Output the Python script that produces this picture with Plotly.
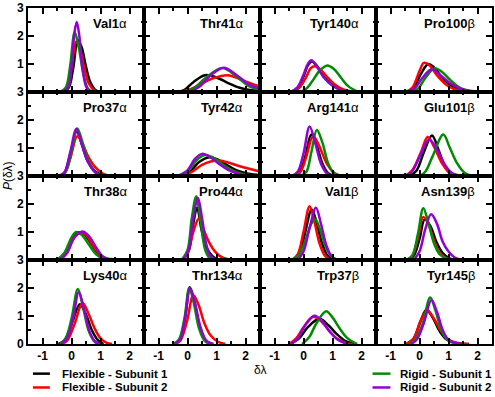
import plotly.graph_objects as go
from plotly.subplots import make_subplots

# series order in every panel: black, red, green, purple
SERIES = ["Flexible - Subunit 1", "Flexible - Subunit 2", "Rigid - Subunit 1", "Rigid - Subunit 2"]
COLORS = ["#000000", "#ff0000", "#008b00", "#9400d3"]

PANEL_NAMES = ["Val1α", "Thr41α", "Tyr140α", "Pro100β",
               "Pro37α", "Tyr42α", "Arg141α", "Glu101β",
               "Thr38α", "Pro44α", "Val1β", "Asn139β",
               "Lys40α", "Thr134α", "Trp37β", "Tyr145β"]

# (δλ, P) points
VAL1A = [
    [(-0.3, 0), (-0.1, 0.15), (0.05, 0.8), (0.22, 1.85), (0.35, 1.6), (0.5, 0.9), (0.65, 0.35), (0.85, 0.05), (1.0, 0)],
    [(-0.35, 0), (-0.15, 0.15), (0.0, 0.85), (0.16, 1.8), (0.3, 1.5), (0.45, 0.8), (0.6, 0.3), (0.8, 0.05), (0.95, 0)],
    [(-0.4, 0), (-0.2, 0.15), (-0.05, 0.9), (0.11, 2.13), (0.25, 1.6), (0.4, 0.7), (0.55, 0.15), (0.7, 0)],
    [(-0.3, 0), (-0.1, 0.2), (0.0, 0.9), (0.1, 2.1), (0.18, 2.5), (0.27, 2.0), (0.37, 0.9), (0.5, 0.2), (0.62, 0)],
]
THR41A = [
    [(-0.4, 0), (-0.1, 0.08), (0.2, 0.35), (0.6, 0.6), (1.0, 0.52), (1.4, 0.32), (1.8, 0.15), (2.2, 0.06), (2.5, 0.04)],
    [(-0.35, 0), (0.0, 0.06), (0.4, 0.25), (0.9, 0.5), (1.4, 0.6), (1.8, 0.46), (2.2, 0.3), (2.5, 0.2)],
    [(-0.2, 0), (0.2, 0.12), (0.6, 0.48), (1.2, 0.86), (1.7, 0.55), (2.1, 0.22), (2.5, 0.08)],
    [(0.0, 0), (0.4, 0.18), (0.8, 0.6), (1.25, 0.87), (1.7, 0.6), (2.1, 0.28), (2.5, 0.12)],
]
TYR140A = [
    [(-0.45, 0), (-0.2, 0.15), (0.0, 0.55), (0.15, 0.95), (0.29, 1.09), (0.45, 0.95), (0.7, 0.55), (1.0, 0.25), (1.3, 0.07), (1.6, 0)],
    [(-0.4, 0), (-0.15, 0.15), (0.1, 0.55), (0.25, 0.85), (0.39, 0.92), (0.6, 0.78), (0.85, 0.5), (1.1, 0.25), (1.4, 0.08), (1.75, 0)],
    [(-0.1, 0), (0.1, 0.12), (0.3, 0.38), (0.55, 0.75), (0.82, 0.95), (1.05, 0.82), (1.3, 0.5), (1.55, 0.2), (1.9, 0)],
    [(-0.45, 0), (-0.2, 0.18), (0.0, 0.62), (0.15, 1.0), (0.27, 1.13), (0.45, 0.92), (0.7, 0.52), (1.0, 0.22), (1.3, 0.06), (1.55, 0)],
]
PRO100B = [
    [(-0.45, 0), (-0.2, 0.15), (0.05, 0.65), (0.3, 1.0), (0.5, 0.88), (0.75, 0.55), (1.05, 0.26), (1.35, 0.1), (1.7, 0.02), (1.9, 0)],
    [(-0.5, 0), (-0.25, 0.15), (0.0, 0.75), (0.15, 1.04), (0.35, 0.95), (0.6, 0.6), (0.9, 0.28), (1.2, 0.1), (1.6, 0.02), (1.8, 0)],
    [(-0.3, 0), (-0.05, 0.12), (0.2, 0.5), (0.52, 0.85), (0.8, 0.7), (1.05, 0.44), (1.35, 0.18), (1.7, 0.04), (1.95, 0)],
    [(-0.4, 0), (-0.15, 0.15), (0.1, 0.5), (0.42, 0.81), (0.7, 0.62), (1.05, 0.32), (1.4, 0.12), (1.8, 0.04), (2.3, 0)],
]
PRO37A = [
    [(-0.45, 0), (-0.25, 0.1), (-0.05, 0.75), (0.18, 1.6), (0.35, 1.15), (0.55, 0.55), (0.8, 0.18), (1.05, 0.03), (1.2, 0)],
    [(-0.45, 0), (-0.25, 0.08), (-0.05, 0.6), (0.2, 1.42), (0.4, 1.1), (0.6, 0.65), (0.85, 0.28), (1.1, 0.08), (1.4, 0)],
    [(-0.4, 0), (-0.2, 0.15), (0.0, 0.85), (0.2, 1.7), (0.38, 1.2), (0.58, 0.55), (0.8, 0.15), (1.05, 0)],
    [(-0.45, 0), (-0.25, 0.12), (-0.05, 0.82), (0.17, 1.68), (0.35, 1.15), (0.55, 0.55), (0.8, 0.15), (1.05, 0)],
]
TYR42A = [
    [(-0.3, 0), (0.1, 0.18), (0.4, 0.5), (0.75, 0.67), (1.05, 0.58), (1.35, 0.4), (1.7, 0.2), (2.1, 0.08), (2.5, 0.04)],
    [(-0.3, 0), (0.1, 0.12), (0.5, 0.4), (0.8, 0.52), (1.1, 0.55), (1.4, 0.48), (1.8, 0.35), (2.2, 0.24), (2.5, 0.16)],
    [(-0.3, 0), (0.05, 0.2), (0.3, 0.55), (0.6, 0.75), (0.9, 0.65), (1.2, 0.42), (1.5, 0.22), (1.9, 0.07), (2.4, 0.01)],
    [(-0.35, 0), (0.0, 0.2), (0.25, 0.6), (0.5, 0.79), (0.8, 0.66), (1.1, 0.42), (1.4, 0.22), (1.8, 0.07), (2.3, 0.01)],
]
ARG141A = [
    [(-0.35, 0), (-0.15, 0.12), (0.05, 0.65), (0.27, 1.48), (0.45, 1.1), (0.65, 0.45), (0.85, 0.1), (1.05, 0)],
    [(-0.3, 0), (-0.1, 0.15), (0.1, 0.7), (0.33, 1.43), (0.55, 1.05), (0.8, 0.45), (1.05, 0.12), (1.3, 0)],
    [(-0.1, 0), (0.1, 0.15), (0.27, 0.85), (0.46, 1.64), (0.65, 1.2), (0.85, 0.45), (1.05, 0.1), (1.3, 0)],
    [(-0.4, 0), (-0.2, 0.15), (0.0, 0.8), (0.21, 1.77), (0.4, 1.2), (0.6, 0.45), (0.8, 0.1), (1.0, 0)],
]
GLU101B = [
    [(-0.35, 0), (-0.1, 0.2), (0.15, 0.85), (0.43, 1.45), (0.65, 0.95), (0.85, 0.4), (1.05, 0.1), (1.25, 0)],
    [(-0.5, 0), (-0.25, 0.2), (0.05, 0.85), (0.28, 1.39), (0.5, 1.05), (0.75, 0.5), (1.0, 0.15), (1.3, 0)],
    [(0.0, 0), (0.2, 0.15), (0.45, 0.7), (0.82, 1.48), (1.05, 1.0), (1.3, 0.45), (1.55, 0.12), (1.85, 0)],
    [(-0.5, 0), (-0.25, 0.18), (0.05, 0.8), (0.33, 1.3), (0.6, 0.95), (0.85, 0.45), (1.1, 0.12), (1.45, 0)],
]
THR38A = [
    [(-0.45, 0), (-0.2, 0.25), (0.05, 0.8), (0.25, 0.99), (0.45, 0.9), (0.7, 0.55), (0.95, 0.2), (1.2, 0.04), (1.4, 0)],
    [(-0.45, 0), (-0.2, 0.23), (0.05, 0.75), (0.28, 0.97), (0.5, 0.88), (0.75, 0.5), (1.0, 0.18), (1.25, 0.05), (1.6, 0.03), (2.5, 0.02)],
    [(-0.5, 0), (-0.25, 0.25), (0.0, 0.8), (0.16, 1.0), (0.35, 0.9), (0.6, 0.55), (0.85, 0.2), (1.1, 0.04), (1.3, 0)],
    [(-0.4, 0), (-0.15, 0.25), (0.1, 0.8), (0.38, 1.02), (0.6, 0.85), (0.85, 0.45), (1.05, 0.15), (1.3, 0)],
]
PRO44A = [
    [(-0.15, 0), (0.05, 0.35), (0.2, 1.3), (0.33, 1.87), (0.48, 1.1), (0.65, 0.45), (0.85, 0.15), (1.1, 0)],
    [(-0.2, 0), (0.0, 0.25), (0.2, 1.0), (0.39, 1.48), (0.55, 1.1), (0.75, 0.62), (0.95, 0.3), (1.15, 0.12), (1.45, 0)],
    [(-0.2, 0), (0.0, 0.35), (0.15, 1.5), (0.3, 2.27), (0.45, 1.4), (0.6, 0.4), (0.75, 0.08), (0.9, 0)],
    [(-0.15, 0), (0.05, 0.4), (0.2, 1.5), (0.36, 2.22), (0.5, 1.5), (0.65, 0.55), (0.8, 0.12), (1.0, 0)],
]
VAL1B = [
    [(-0.35, 0), (-0.15, 0.2), (0.05, 0.95), (0.28, 1.8), (0.45, 1.35), (0.62, 0.65), (0.8, 0.2), (1.0, 0)],
    [(-0.4, 0), (-0.2, 0.2), (0.0, 1.0), (0.21, 1.92), (0.38, 1.35), (0.55, 0.6), (0.72, 0.18), (0.9, 0)],
    [(-0.4, 0), (-0.15, 0.2), (0.1, 0.8), (0.27, 1.3), (0.41, 1.45), (0.6, 1.0), (0.8, 0.4), (1.0, 0.1), (1.2, 0)],
    [(-0.2, 0), (0.0, 0.3), (0.2, 1.1), (0.43, 1.87), (0.6, 1.3), (0.78, 0.55), (0.95, 0.15), (1.15, 0)],
]
ASN139B = [
    [(-0.4, 0), (-0.2, 0.15), (0.0, 0.75), (0.18, 1.45), (0.38, 1.2), (0.58, 0.65), (0.8, 0.25), (1.05, 0.05), (1.3, 0)],
    [(-0.45, 0), (-0.25, 0.15), (-0.05, 0.8), (0.13, 1.54), (0.3, 1.3), (0.5, 0.7), (0.7, 0.25), (0.95, 0.05), (1.2, 0)],
    [(-0.45, 0), (-0.25, 0.15), (-0.05, 0.95), (0.13, 1.85), (0.3, 1.35), (0.5, 0.6), (0.7, 0.2), (0.95, 0.05), (1.2, 0)],
    [(-0.2, 0), (0.0, 0.3), (0.2, 1.1), (0.4, 1.63), (0.6, 1.3), (0.8, 0.65), (1.0, 0.3), (1.2, 0.1), (1.45, 0)],
]
LYS40A = [
    [(-0.45, 0), (-0.25, 0.12), (0.0, 0.7), (0.29, 1.42), (0.5, 1.05), (0.7, 0.5), (0.9, 0.15), (1.1, 0)],
    [(-0.35, 0), (-0.15, 0.12), (0.1, 0.7), (0.38, 1.46), (0.58, 1.1), (0.8, 0.55), (1.0, 0.2), (1.2, 0.05), (1.4, 0)],
    [(-0.4, 0), (-0.2, 0.2), (0.0, 0.9), (0.22, 1.96), (0.4, 1.3), (0.6, 0.45), (0.8, 0.08), (0.95, 0)],
    [(-0.35, 0), (-0.15, 0.2), (0.05, 0.9), (0.25, 1.85), (0.42, 1.3), (0.62, 0.45), (0.82, 0.08), (1.0, 0)],
]
THR134A = [
    [(-0.45, 0), (-0.25, 0.15), (-0.08, 0.95), (0.08, 2.03), (0.25, 1.45), (0.42, 0.6), (0.62, 0.12), (0.85, 0)],
    [(-0.45, 0), (-0.25, 0.12), (-0.02, 0.8), (0.2, 1.74), (0.38, 1.4), (0.58, 0.75), (0.8, 0.3), (1.05, 0.08), (1.3, 0)],
    [(-0.5, 0), (-0.3, 0.15), (-0.1, 0.95), (0.06, 2.0), (0.22, 1.45), (0.4, 0.55), (0.6, 0.1), (0.8, 0)],
    [(-0.45, 0), (-0.25, 0.15), (-0.08, 0.95), (0.09, 1.99), (0.26, 1.45), (0.45, 0.6), (0.65, 0.12), (0.9, 0)],
]
TRP37B = [
    [(-0.45, 0), (-0.15, 0.2), (0.15, 0.6), (0.55, 0.9), (0.85, 0.68), (1.15, 0.35), (1.45, 0.1), (1.75, 0)],
    [(-0.5, 0), (-0.25, 0.2), (0.0, 0.6), (0.33, 0.97), (0.6, 0.82), (0.9, 0.45), (1.15, 0.2), (1.5, 0.02), (1.7, 0)],
    [(-0.05, 0), (0.2, 0.25), (0.45, 0.75), (0.78, 1.17), (1.0, 0.95), (1.25, 0.55), (1.5, 0.22), (1.85, 0)],
    [(-0.45, 0), (-0.2, 0.2), (0.05, 0.65), (0.38, 1.01), (0.65, 0.8), (0.9, 0.45), (1.15, 0.18), (1.5, 0)],
]
TYR145B = [
    [(-0.45, 0), (-0.2, 0.2), (0.05, 0.85), (0.24, 1.22), (0.45, 0.95), (0.7, 0.45), (0.95, 0.15), (1.3, 0.03), (1.7, 0)],
    [(-0.45, 0), (-0.2, 0.2), (0.05, 0.85), (0.27, 1.2), (0.5, 0.9), (0.75, 0.45), (1.0, 0.15), (1.35, 0.03), (1.7, 0)],
    [(-0.35, 0), (-0.15, 0.15), (0.1, 0.7), (0.37, 1.66), (0.55, 1.2), (0.75, 0.5), (0.95, 0.15), (1.2, 0.03), (1.4, 0)],
    [(-0.3, 0), (-0.1, 0.15), (0.15, 0.75), (0.41, 1.57), (0.6, 1.15), (0.8, 0.5), (1.0, 0.15), (1.3, 0.03), (1.5, 0)],
]

PANELS = [VAL1A, THR41A, TYR140A, PRO100B,
          PRO37A, TYR42A, ARG141A, GLU101B,
          THR38A, PRO44A, VAL1B, ASN139B,
          LYS40A, THR134A, TRP37B, TYR145B]

X_TICKS = [-1, 0, 1, 2]
X_MINOR = [-1.5, -0.5, 0.5, 1.5, 2.5]
Y_MINOR = [0.5, 1.5, 2.5]

W, H = 495, 397
ML, MR, MT, MB = 28, 1, 4, 53
FONT = "Liberation Sans, Arial, sans-serif"


def px(x):
    return (x - ML) / (W - ML - MR)


def py(y):
    return (H - MB - y) / (H - MT - MB)


fig = make_subplots(rows=4, cols=4, horizontal_spacing=0, vertical_spacing=0)

for k, curves in enumerate(PANELS):
    r, c = k // 4 + 1, k % 4 + 1
    for i, pts in enumerate(curves):
        fig.add_trace(go.Scatter(
            x=[p[0] for p in pts], y=[p[1] for p in pts], mode="lines",
            line=dict(color=COLORS[i], width=2.5, shape="spline", smoothing=1.0),
            name=SERIES[i], showlegend=False, hoverinfo="skip"), row=r, col=c)

    n = "" if k == 0 else str(k + 1)
    fig.add_annotation(xref=f"x{n} domain", yref=f"y{n} domain", x=0.87, y=0.81,
                       xanchor="right", yanchor="middle", showarrow=False,
                       text=f"<b>{PANEL_NAMES[k][:-1]}</b>{PANEL_NAMES[k][-1]}",
                       font=dict(family=FONT, size=13, color="black"))

    yvals = [0, 1, 2, 3] if r == 4 else [1, 2, 3]
    fig.update_yaxes(row=r, col=c, range=[0, 3], tickmode="array", tickvals=yvals,
                     ticktext=[str(v) for v in yvals], showticklabels=(c == 1),
                     minor=dict(tickmode="array", tickvals=Y_MINOR, ticks="inside",
                                ticklen=3, tickwidth=1.5, tickcolor="black"))
    fig.update_xaxes(row=r, col=c, range=[-1.5, 2.5], tickmode="array", tickvals=X_TICKS,
                     ticktext=[str(v) for v in X_TICKS], showticklabels=(r == 4),
                     minor=dict(tickmode="array", tickvals=X_MINOR, ticks="inside",
                                ticklen=3, tickwidth=1.5, tickcolor="black"))

fig.update_xaxes(showline=True, linecolor="black", linewidth=2, mirror="ticks",
                 ticks="inside", ticklen=6, tickwidth=1.5, tickcolor="black",
                 showgrid=False, zeroline=False,
                 tickfont=dict(family=FONT, size=12, color="black", weight="bold"))
fig.update_yaxes(showline=True, linecolor="black", linewidth=2, mirror="ticks",
                 ticks="inside", ticklen=6, tickwidth=1.5, tickcolor="black",
                 showgrid=False, zeroline=False,
                 tickfont=dict(family=FONT, size=12, color="black", weight="bold"))

# axis titles
fig.add_annotation(xref="paper", yref="paper", x=px(8), y=0.5, textangle=-90,
                   xanchor="center", yanchor="middle",
                   text="<i>P</i>(δλ)", showarrow=False,
                   font=dict(family=FONT, size=12, color="black"))
fig.add_annotation(xref="paper", yref="paper", x=0.5, y=py(370), text="δλ",
                   xanchor="center", yanchor="middle", showarrow=False,
                   font=dict(family=FONT, size=12, color="black"))

# legend, two columns under the panels
legend_pos = [(33, 50, 60, 374), (33, 50, 60, 388), (374, 392, 400, 374), (374, 392, 400, 388)]
for i, (x0, x1, xt, yy) in enumerate(legend_pos):
    fig.add_shape(type="line", xref="paper", yref="paper", x0=px(x0), x1=px(x1),
                  y0=py(yy), y1=py(yy), line=dict(color=COLORS[i], width=2.5))
    fig.add_annotation(xref="paper", yref="paper", x=px(xt), y=py(yy), xanchor="left",
                       yanchor="middle", text=f"<b>{SERIES[i]}</b>", showarrow=False,
                       font=dict(family=FONT, size=11.5, color="black"))

fig.update_layout(width=W, height=H, margin=dict(l=ML, r=MR, t=MT, b=MB),
                  plot_bgcolor="white", paper_bgcolor="white", showlegend=False)

# page body margin would push the fixed-size figure out of the window
fig.write_html("out.html", config={"displayModeBar": False},
               post_script="document.body.style.margin='0';document.body.style.overflow='hidden';")
